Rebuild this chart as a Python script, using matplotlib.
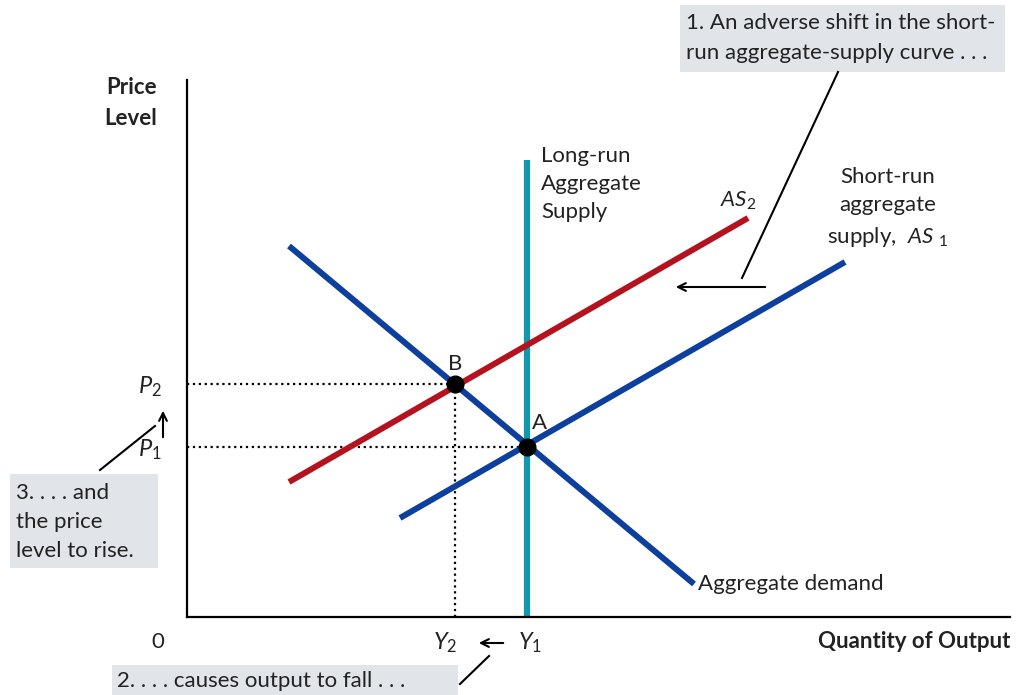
"""
Adverse supply shock: AS shifts left, output falls and prices rise.
"""
import matplotlib.pyplot as plt
from matplotlib.patches import Rectangle

plt.rcParams['font.family'] = ['Lato', 'DejaVu Sans']
plt.rcParams['mathtext.fontset'] = 'custom'
plt.rcParams['mathtext.it'] = 'Lato:italic'
plt.rcParams['mathtext.rm'] = 'Lato'

# curve endpoints in chart units (origin at the axes corner)
ad_x = [102, 507]
ad_y = [371, 33]
as1_x = [213, 658]
as1_y = [99, 355]
as2_x = [102, 561]
as2_y = [135, 399]
lras_x = [340, 340]
lras_y = [0, 457]

# equilibrium points
eq_labels = ['A', 'B']
eq_x = [340, 268]
eq_y = [170, 233]

BLUE = '#0d3f9f'
RED = '#b5121f'
TEAL = '#1197b1'
BOX = '#e1e4e9'

fig = plt.figure(figsize=(10.16, 6.95), dpi=100)
ax = fig.add_axes([187 / 1016, 78 / 695, 823 / 1016, 537 / 695])
ax.set_xlim(0, 823)
ax.set_ylim(0, 537)
for s in ['top', 'right']:
    ax.spines[s].set_visible(False)
for s in ['left', 'bottom']:
    ax.spines[s].set_linewidth(1.6)
ax.set_xticks([])
ax.set_yticks([])

# guides from the axes to the equilibria
ax_, bx_ = eq_x
ay_, by_ = eq_y
ax.plot([0, ax_], [ay_, ay_], color='black', ls=':', lw=1.6)
ax.plot([0, bx_], [by_, by_], color='black', ls=':', lw=1.6)
ax.plot([bx_, bx_], [0, by_], color='black', ls=':', lw=1.6)

ax.plot(lras_x, lras_y, color=TEAL, lw=4.5, solid_capstyle='butt')
ax.plot(ad_x, ad_y, color=BLUE, lw=4.3, solid_capstyle='butt')
ax.plot(as1_x, as1_y, color=BLUE, lw=4.3, solid_capstyle='butt')
ax.plot(as2_x, as2_y, color=RED, lw=4.3, solid_capstyle='butt')
ax.plot(eq_x, eq_y, 'o', color='black', ms=12, zorder=5)

txt = dict(fontsize=16, color='#222222', clip_on=False)
sym = dict(fontsize=17, color='#222222', clip_on=False)

ax.text(ax_ + 5, ay_ + 24, eq_labels[0], ha='left', va='center', **txt)
ax.text(bx_, by_ + 20, eq_labels[1], ha='center', va='center', **txt)

# curve labels
ax.text(354, 433, 'Long-run\nAggregate\nSupply', va='center', linespacing=1.52, **txt)
ax.text(ad_x[1] + 4, ad_y[1], 'Aggregate demand', va='center', **txt)
ax.text(551, 416, r'$AS_{2}$', ha='center', va='center', **txt)
ax.text(701, 409, 'Short-run\naggregate\nsupply,  ' + r'$AS\ {}_{1}$',
        ha='center', va='center', linespacing=1.55, **txt)

# axis labels
ax.text(-30, 514, 'Price\nLevel', ha='right', va='center', fontweight='bold',
        linespacing=1.6, **txt)
ax.text(823, -25, 'Quantity of Output', ha='right', va='center',
        fontweight='bold', **txt)
ax.text(-29, -25, '0', ha='center', va='center', **txt)
ax.text(-37, by_ - 3, r'$P_{2}$', ha='center', va='center', **sym)
ax.text(-37, ay_ - 3, r'$P_{1}$', ha='center', va='center', **sym)
ax.text(bx_ - 10, -26, r'$Y_{2}$', ha='center', va='center', **sym)
ax.text(ax_ + 3, -26, r'$Y_{1}$', ha='center', va='center', **sym)

arrow = dict(arrowstyle='->', color='black', lw=1.5, mutation_scale=14)
ax.annotate('', xy=(486, 330), xytext=(581, 330), arrowprops=arrow)
ax.annotate('', xy=(-24, 209), xytext=(-24, 177), arrowprops=arrow,
            annotation_clip=False)
ax.annotate('', xy=(289, -26), xytext=(319, -26), arrowprops=arrow,
            annotation_clip=False)

# leader lines to the notes
lead = dict(color='black', lw=1.5, clip_on=False)
ax.plot([555, 651], [339, 545], **lead)
ax.plot([-87, -32], [147, 191], **lead)
ax.plot([273, 302], [-67, -39], **lead)

# note boxes
for x0, y0, w, h in [(493, 545, 325, 67), (-177, 49, 148, 94), (-75, -78, 346, 30)]:
    ax.add_patch(Rectangle((x0, y0), w, h, facecolor=BOX, edgecolor='none',
                           clip_on=False, zorder=0))
ax.text(499, 579, '1. An adverse shift in the short-\nrun aggregate-supply curve . . .',
        ha='left', va='center', linespacing=1.6, **txt)
ax.text(-171, 95, '3. . . . and\nthe price\nlevel to rise.',
        ha='left', va='center', linespacing=1.56, **txt)
ax.text(-70, -64, '2. . . . causes output to fall . . .',
        ha='left', va='center', **txt)

fig.savefig('out.png', dpi=100)
